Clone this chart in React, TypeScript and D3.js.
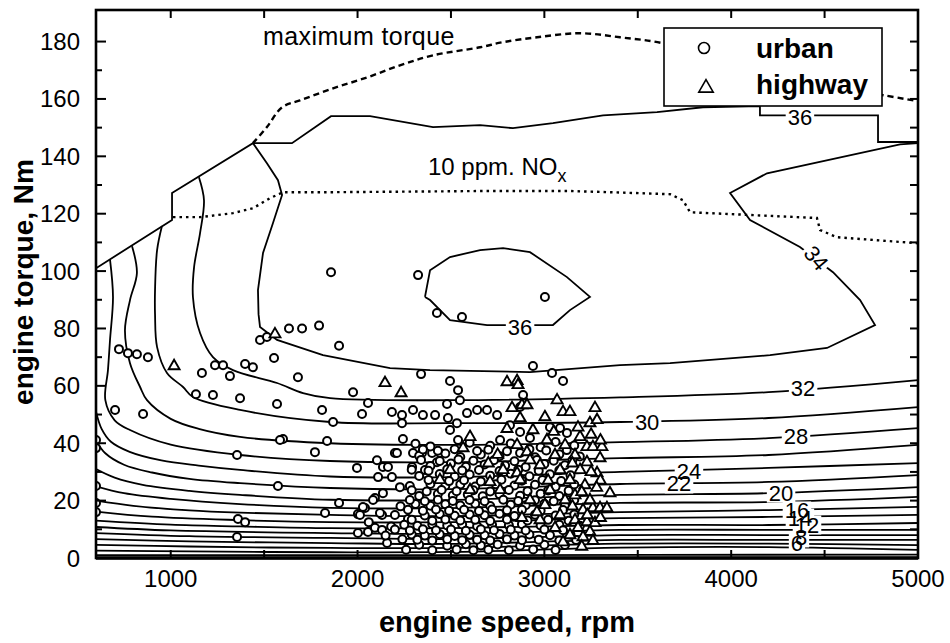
import { useEffect, useRef } from "react"
import * as d3 from "d3"

type Pt = [number, number]

// axes (engine speed in rpm, torque in Nm)
const X_DOMAIN: Pt = [600, 5000]
const Y_DOMAIN: Pt = [0, 191]
const xTicks = [1000, 2000, 3000, 4000, 5000]
const xMinorTicks = [1000, 1500, 2000, 2500, 3000, 3500, 4000, 4500]
const yTicks = [0, 20, 40, 60, 80, 100, 120, 140, 160, 180]
const yMinorTicks = [10, 30, 50, 70, 90, 110, 130, 150, 170]
const yRightTicks = [10, 20, 30, 40, 50, 60, 70, 80, 90, 100, 110, 120, 130, 140, 150, 160, 170, 180]

// outer edge of the mapped region (carries the "36" label)
const mapEdge: Pt[] = [
  [600, 101], [1007, 117.8], [1007, 127.2], [1440, 144.6], [1649, 144.6], [1858, 154], [2067, 154],
  [2404, 150.2], [2656, 150.9], [2832, 149.8], [3046, 151.6], [3314, 154.3], [3603, 155.4], [3849, 157.1],
  [4154, 157.5], [4154, 154.3], [4583, 154.3], [4786, 154.3], [4786, 145], [5000, 145],
]

const maxTorque: Pt[] = [
  [1440, 144.6], [1515, 150.2], [1596, 157.1], [1692, 159.5], [1869, 163.7], [2051, 167.5], [2227, 171.7],
  [2404, 175.2], [2656, 178], [2779, 179.8], [2961, 181.5], [3191, 182.9], [3405, 181.5], [3635, 179.4],
  [3900, 174.5], [4101, 169.5], [4500, 164.5], [4813, 161.3], [5000, 159.2],
]

const noxLimit: Pt[] = [
  [1012, 118.8], [1157, 118.8], [1333, 120.2], [1440, 121.9], [1531, 125.4], [1601, 127.5], [1869, 127.5],
  [2656, 127.9], [3137, 127.9], [3351, 127.5], [3673, 126.8], [3742, 124.7], [3780, 120.5], [4459, 118.5],
  [4476, 114.3], [4566, 111.8], [5000, 109.7],
]

// efficiency contours, %
const c36: Pt[] = [
  [2361, 91], [2388, 100.3], [2495, 104.9], [2656, 107.3], [2779, 108], [2923, 106.6], [3121, 97.9],
  [3244, 91], [3137, 86.4], [3046, 81.2], [2693, 81.2], [2495, 82.9], [2388, 89.9], [2361, 91],
]
const c34: Pt[] = [
  [1440, 144.6], [1515, 137.6], [1574, 131.7], [1596, 126.5], [1547, 116.7], [1494, 106.3], [1467, 93.4],
  [1470, 85], [1478, 80.5], [1569, 76], [1815, 70.7], [2174, 66.2], [2388, 65.5], [2923, 64.8], [3405, 67.2],
  [3673, 67.9], [4208, 70.7], [4513, 73.2], [4770, 81.2], [4690, 89.9], [4545, 99.6], [4368, 108.4],
  [4101, 117.8], [3994, 127.2], [4192, 134.1], [4904, 144.2], [5000, 144.6],
]
const c32: Pt[] = [
  [1151, 132.7], [1178, 124.7], [1157, 113.2], [1125, 101.4], [1119, 90.9], [1157, 78.4], [1226, 70],
  [1333, 65.5], [1569, 61], [1708, 57.5], [1853, 55.7], [2500, 55], [3405, 56], [4200, 57.8], [5000, 62],
]
const c30: Pt[] = [
  [953, 115.7], [927, 107.3], [916, 93.4], [916, 85], [927, 73.5], [980, 64.5], [1066, 59.6], [1119, 56.1],
  [1371, 51.6], [1853, 47.4], [2500, 47], [3405, 47.4], [4200, 48.8], [5000, 52.6],
]
const c28: Pt[] = [
  [793, 108.7], [819, 99.3], [782, 89.9], [755, 79.4], [782, 67.9], [836, 59.6], [873, 55], [1000, 48.5],
  [1150, 45], [1371, 42.2], [1853, 40], [2500, 39.4], [3405, 40.4], [4200, 41.8], [5000, 45.3],
]
const c26: Pt[] = [
  [675, 104], [691, 91], [675, 76], [664, 65.5], [650, 55], [700, 48], [782, 44.6], [1000, 39.5],
  [1371, 35.9], [1853, 33.8], [2500, 33.4], [3405, 34.8], [4200, 35.9], [5000, 39.4],
]
const c24: Pt[] = [
  [600, 51], [630, 45], [680, 40.5], [780, 37], [950, 34], [1150, 32.2], [1371, 30.7], [1853, 28.4],
  [2500, 28.2], [3405, 30], [4200, 31.4], [5000, 33.1],
]
const c22: Pt[] = [
  [600, 41], [650, 36.5], [750, 32.5], [900, 29.8], [1100, 27.6], [1371, 26.1], [1853, 24.4], [2500, 24],
  [3405, 25.8], [4200, 26.5], [5000, 28.9],
]
const c20: Pt[] = [
  [600, 31], [700, 28], [850, 25.5], [1100, 23.4], [1371, 22], [1853, 20.3], [2500, 20.2], [3405, 22],
  [4200, 22.6], [5000, 24.7],
]
const c18: Pt[] = [
  [600, 25], [750, 22.6], [1000, 20.6], [1371, 18.8], [1853, 17.5], [2500, 17.4], [3405, 19.2], [4200, 19.5],
  [5000, 21.3],
]
const c16: Pt[] = [
  [600, 20], [800, 18.2], [1100, 16.6], [1371, 15.8], [1853, 15], [2500, 14.6], [3405, 16], [4200, 16.7],
  [5000, 17.8],
]
const c14: Pt[] = [[600, 16.2], [900, 14.4], [1371, 13.2], [1853, 12.5], [2500, 12.5], [3405, 13.9], [4200, 14.3], [5000, 15]]
const c12: Pt[] = [[600, 13], [1000, 11.6], [1371, 11], [1853, 10.4], [2500, 10.4], [3405, 11.5], [4200, 11.5], [5000, 12.2]]
const c10: Pt[] = [[600, 10.8], [1000, 9.6], [1853, 8.7], [2500, 8.4], [3405, 9.8], [4200, 9.8], [5000, 9.8]]
const c8: Pt[] = [[600, 8.7], [1100, 7.6], [1853, 7], [2500, 6.6], [3405, 8], [4200, 8], [5000, 8]]
const c6: Pt[] = [[600, 6.6], [1100, 5.8], [1853, 5.2], [2500, 4.9], [3405, 6.3], [4200, 6.3], [5000, 6.3]]
const c4: Pt[] = [[600, 4.6], [1100, 4], [1853, 3.5], [2500, 3.5], [3405, 5], [4200, 5], [5000, 4.5]]
const c2: Pt[] = [[600, 2.6], [1100, 2.3], [1853, 2], [2500, 2.1], [3405, 3.6], [4200, 3.8], [5000, 2.8]]
const c0: Pt[] = [[600, 1], [2500, 1], [5000, 1.2]]

const contourLabels: { text: string; at: Pt; angle: number }[] = [
  { text: "36", at: [4368, 153.6], angle: 0 },
  { text: "34", at: [4454, 104.5], angle: 50 },
  { text: "36", at: [2870, 80.5], angle: 0 },
  { text: "32", at: [4385, 59.2], angle: 0 },
  { text: "30", at: [3550, 47.4], angle: 0 },
  { text: "28", at: [4347, 42.5], angle: 0 },
  { text: "24", at: [3774, 30], angle: 0 },
  { text: "22", at: [3721, 25.8], angle: 0 },
  { text: "20", at: [4267, 22.6], angle: 0 },
  { text: "16", at: [4352, 16.4], angle: 0 },
  { text: "14", at: [4368, 13.9], angle: 0 },
  { text: "12", at: [4406, 11.5], angle: 0 },
  { text: "8", at: [4374, 7], angle: 0 },
  { text: "6", at: [4352, 5.2], angle: 0 },
]

// operating points
const urban: Pt[] = [
  [1858, 99.6], [2324, 98.6], [2425, 85.4], [2559, 84], [3003, 91],
  [1633, 80], [1703, 80], [1794, 81], [1901, 74], [1553, 69.7], [1478, 76], [1515, 77], [1681, 63], [1976, 57.8],
  [723, 72.8], [771, 71.4], [819, 71], [878, 70], [1167, 64.5], [1237, 67.2], [1280, 67.2], [1317, 63.4],
  [1398, 67.6], [1440, 66.5], [1135, 57.1], [1226, 56.8], [1371, 55.7], [702, 51.6], [852, 50.2],
  [600, 41.1], [600, 38.3], [1355, 35.9], [600, 25.1], [600, 19.2], [600, 16],
  [1360, 13.6], [1398, 12.5], [1355, 7.3], [1569, 53.7], [1810, 51.6], [1869, 47.4], [2056, 54], [2024, 50.2],
  [2184, 50.9], [2238, 49.8], [2238, 47], [1601, 41.5], [1585, 41.1], [1837, 40.8], [1772, 36.9], [2243, 41.5],
  [2200, 36.6], [1997, 31.4], [2104, 34.1], [2136, 31.7], [2110, 28.2], [2184, 28.2],
  [1574, 25.1], [2227, 24.7], [2093, 20.9], [1901, 19.2], [1826, 15.7], [2002, 15.3], [2040, 17.4], [2131, 15],
  [2200, 15], [2002, 8.7], [2056, 9.1], [2093, 10.5], [2131, 9.8], [2158, 5.2],
  [2340, 64.1], [2939, 66.9], [3041, 64.5], [3100, 61.7], [2495, 61.7], [2538, 58.5], [2297, 51.6], [2350, 49.8],
  [2415, 49.8], [2479, 53.7], [2484, 48.8], [2548, 55], [2586, 50.5], [2640, 51.6], [2693, 51.6], [2747, 49.8],
  [2532, 47], [2495, 44.6], [2816, 46.3], [2886, 56.8], [2870, 52.6], [2870, 43.9], [2923, 41.8], [3030, 45.6],
  [3084, 45.3], [3121, 43.6], [2211, 36.6], [2297, 36.6], [2345, 36.6], [2399, 36.6], [2441, 36.6], [2163, 31.7],
  [2292, 31.7], [2425, 33.4], [2538, 41.1], [2763, 41.1], [2361, 30.7], [2136, 22.6], [2029, 17.8], [2013, 15],
  [2120, 15.7], [2083, 20.2], [2060, 12.5], [2180, 11], [2230, 18], [2150, 7.8], [2240, 6.5], [2270, 13.6],
  [2310, 39.8], [2390, 38.9], [2600, 40.2], [2710, 39.1], [2820, 39.9], [2980, 38.6], [3060, 40.4], [3160, 39.2],
  [2330, 35.6], [2470, 36.4], [2550, 35.2], [2660, 36.1], [2760, 35.5], [2870, 36.6], [2950, 35.1], [3080, 36.2], [3190, 35.4],
  [2390, 32.1], [2500, 32.9], [2580, 31.8], [2680, 32.6], [2790, 32.2], [2900, 31.7], [3000, 32.8], [3110, 32.3],
  [2330, 28.6], [2440, 29.3], [2520, 28.4], [2600, 29.1], [2710, 28.7], [2820, 29.4], [2920, 28.5], [3030, 29.2], [3140, 28.8],
  [2280, 25.1], [2390, 25.8], [2470, 25.2], [2550, 25.6], [2630, 24.9], [2740, 25.7], [2840, 25.3], [2950, 25.5], [3060, 24.8], [3160, 25.6],
  [2330, 21.6], [2430, 22.3], [2510, 21.8], [2590, 22.1], [2670, 21.5], [2760, 22.2], [2870, 21.7], [2980, 22.4], [3080, 21.6],
  [2310, 18.8], [2390, 18.2], [2470, 18.7], [2550, 18.3], [2630, 18.9], [2710, 18.1], [2820, 18.6], [2900, 18.4], [3000, 18.9], [3110, 18.2],
  [2360, 14.8], [2440, 15.3], [2520, 14.7], [2600, 15.2], [2680, 14.9], [2760, 15.4], [2840, 14.6], [2950, 15.1], [3060, 14.8], [3160, 15.2],
  [2250, 11.6], [2320, 11.2], [2400, 11.8], [2480, 11.3], [2560, 11.7], [2640, 11.1], [2720, 11.6], [2810, 11.4], [2880, 11.8], [2980, 11.3], [3080, 11.6], [3190, 11.2],
  [2290, 8.2], [2360, 7.8], [2440, 8.3], [2520, 7.7], [2600, 8.1], [2680, 7.9], [2760, 8.4], [2840, 7.8], [2920, 8.2], [3030, 7.9], [3140, 8.1],
  [2330, 4.6], [2480, 4.3], [2580, 4.8], [2660, 4.4], [2750, 4.7], [2870, 4.3], [3000, 4.6], [3110, 4.5],
  [2350, 37.8], [2430, 37.4], [2520, 37.9], [2640, 37.3], [2700, 37.7], [2800, 37.2], [2920, 37.9], [3010, 37.5], [3120, 37.6],
  [2340, 34.2], [2440, 33.8], [2540, 34.3], [2620, 33.9], [2730, 34.1], [2840, 33.7], [2960, 34.2], [3050, 33.9], [3150, 34.1],
  [2290, 30.8], [2380, 30.4], [2480, 30.9], [2560, 30.5], [2650, 30.7], [2760, 30.3], [2860, 30.8], [2970, 30.4], [3080, 30.6],
  [2380, 27.2], [2490, 26.8], [2570, 27.1], [2660, 26.7], [2770, 27.3], [2880, 26.9], [2990, 27.2], [3090, 26.8],
  [2290, 23.6], [2370, 23.2], [2450, 23.7], [2530, 23.3], [2620, 23.6], [2710, 23.2], [2810, 23.7], [2910, 23.3], [3020, 23.5], [3130, 23.4],
  [2280, 20.2], [2360, 19.8], [2430, 20.3], [2510, 19.9], [2600, 20.2], [2680, 19.8], [2780, 20.3], [2860, 19.9], [2950, 20.1], [3050, 19.8], [3160, 20.2],
  [2270, 16.8], [2350, 16.5], [2420, 16.9], [2490, 16.5], [2570, 16.8], [2650, 16.4], [2720, 16.9], [2800, 16.6], [2880, 16.8], [2980, 16.5], [3100, 16.7],
  [2290, 13.3], [2400, 13], [2470, 13.4], [2550, 13.1], [2630, 13.3], [2710, 12.9], [2800, 13.4], [2910, 13.1], [3020, 13.3], [3130, 13],
  [2200, 9.9], [2280, 9.6], [2350, 10], [2420, 9.7], [2500, 9.9], [2580, 9.5], [2660, 10], [2730, 9.7], [2820, 9.9], [2900, 9.6], [3000, 9.9], [3100, 9.7],
  [2320, 6.4], [2400, 6.1], [2480, 6.5], [2560, 6.2], [2640, 6.4], [2710, 6.1], [2800, 6.5], [2880, 6.2], [2970, 6.4], [3080, 6.1], [3170, 6.3],
  [2260, 2.9], [2400, 2.7], [2530, 3], [2620, 2.7], [2700, 2.9], [2810, 2.7], [2940, 3], [3060, 2.8],
]

const highway: Pt[] = [
  [1018, 66.9], [1558, 78], [2147, 61], [2233, 57.5], [2800, 61.3], [2854, 61.7], [2859, 60.3], [3068, 55],
  [2880, 53.3], [2827, 52.3], [2907, 53.3], [2870, 48.8], [3003, 49.1], [3100, 50.9], [3137, 50.9], [3271, 52.3],
  [3244, 47], [3282, 48.1], [2602, 42.2], [2565, 38.3], [2854, 39.4], [2939, 44.6], [3191, 42.2], [3228, 38.7],
  [3260, 38.7], [3308, 38.7], [3298, 34.8], [3228, 33.4], [2907, 36.9], [2779, 30.7], [2854, 29.6], [3282, 29.6],
  [3351, 22.6], [3207, 16.7], [3260, 17.4], [3298, 17.4], [3335, 17.4], [3228, 12.5], [3271, 12.2], [3244, 9.1],
  [3207, 7.3], [2709, 26.5], [3084, 30.7], [3137, 27.2], [3030, 23.7], [3111, 20.2], [3164, 21.9], [3003, 18.5],
  [3084, 15], [3164, 13.2], [3057, 10.5], [3137, 8], [2977, 13.2], [2923, 20.2], [2870, 27.2], [2977, 32.4],
  [3057, 35.9], [3111, 39.4], [3164, 35.9], [3217, 25.4], [3244, 20.2], [3191, 30.7], [2495, 30.7], [2602, 23.7],
  [2441, 27.2], [2763, 23.7], [2923, 34.1], [3014, 41.1],
  [3180, 45.5], [3250, 43], [3300, 41], [3150, 33], [3250, 30], [3300, 27], [3200, 23], [3280, 24.5], [3150, 18],
  [3230, 15], [3300, 14], [3180, 10.5], [3260, 6], [3020, 27], [2960, 16], [3050, 44], [2800, 45], [2750, 36],
  [2700, 33], [2880, 14], [3100, 5.5], [3200, 4],
]

const FONT = '"Liberation Sans", Arial, Helvetica, sans-serif'

export default function App() {
  const svgRef = useRef<SVGSVGElement>(null)

  useEffect(() => {
    const svgEl = svgRef.current
    if (!svgEl) return
    const svg = d3.select(svgEl)
    svg.selectAll("*").remove()

    const m = { left: 96, top: 10, right: 918, bottom: 558 }
    const x = d3.scaleLinear().domain(X_DOMAIN).range([m.left, m.right])
    const y = d3.scaleLinear().domain(Y_DOMAIN).range([m.bottom, m.top])

    svg.append("defs").append("clipPath").attr("id", "plot-clip")
      .append("rect").attr("x", m.left).attr("y", m.top)
      .attr("width", m.right - m.left).attr("height", m.bottom - m.top)

    const smooth = d3.line<Pt>().x(d => x(d[0])).y(d => y(d[1])).curve(d3.curveCatmullRom.alpha(0.5))
    const straight = d3.line<Pt>().x(d => x(d[0])).y(d => y(d[1]))

    const plot = svg.append("g").attr("clip-path", "url(#plot-clip)")

    const smoothLines = [c32, c30, c28, c26, c24, c22, c20, c18, c16, c14, c12, c10, c8, c6, c4, c2, c0]
    plot.append("g").selectAll("path").data(smoothLines).join("path")
      .attr("d", d => smooth(d) || "")
      .attr("fill", "none").attr("stroke", "#000").attr("stroke-width", 1.8)

    plot.append("g").selectAll("path").data([mapEdge, c34, c36]).join("path")
      .attr("d", d => straight(d) || "")
      .attr("fill", "none").attr("stroke", "#000").attr("stroke-width", 1.8)

    plot.append("path").attr("d", smooth(maxTorque) || "")
      .attr("fill", "none").attr("stroke", "#000").attr("stroke-width", 2.4)
      .attr("stroke-dasharray", "6,4")
    plot.append("path").attr("d", straight(noxLimit) || "")
      .attr("fill", "none").attr("stroke", "#000").attr("stroke-width", 2.4)
      .attr("stroke-dasharray", "2.5,4")

    // contour labels with white gaps
    const bgG = plot.append("g")
    const txtG = plot.append("g")
    contourLabels.forEach(l => {
      const cx = x(l.at[0]), cy = y(l.at[1])
      const t = txtG.append("text")
        .attr("x", 0).attr("y", 0)
        .attr("text-anchor", "middle").attr("dominant-baseline", "central")
        .attr("transform", `translate(${cx},${cy}) rotate(${l.angle})`)
        .attr("font-family", FONT).attr("font-size", 22).text(l.text)
      const bb = (t.node() as SVGTextElement).getBBox()
      bgG.append("rect")
        .attr("x", bb.x - 2).attr("y", bb.y + 3).attr("width", bb.width + 4).attr("height", bb.height - 6)
        .attr("transform", `translate(${cx},${cy}) rotate(${l.angle})`)
        .attr("fill", "#fff")
    })

    // scatter
    plot.append("g").selectAll("circle").data(urban).join("circle")
      .attr("cx", d => x(d[0])).attr("cy", d => y(d[1])).attr("r", 4)
      .attr("fill", "#fff").attr("stroke", "#000").attr("stroke-width", 2)
    const tri = d3.symbol().type(d3.symbolTriangle).size(52)
    plot.append("g").selectAll("path").data(highway).join("path")
      .attr("d", tri() || "")
      .attr("transform", d => `translate(${x(d[0])},${y(d[1])})`)
      .attr("fill", "#fff").attr("stroke", "#000").attr("stroke-width", 1.9)

    // annotations
    svg.append("text").attr("x", 263).attr("y", 45)
      .attr("font-family", FONT).attr("font-size", 25).attr("letter-spacing", 0.4).text("maximum torque")
    const nox = svg.append("text").attr("x", 428).attr("y", 175)
      .attr("font-family", FONT).attr("font-size", 24)
    nox.append("tspan").text("10 ppm. NO")
    nox.append("tspan").attr("dy", 7).attr("font-size", 18).text("x")

    // frame and ticks
    svg.append("rect").attr("x", m.left).attr("y", m.top)
      .attr("width", m.right - m.left).attr("height", m.bottom - m.top)
      .attr("fill", "none").attr("stroke", "#000").attr("stroke-width", 2.6)
    svg.append("line").attr("x1", m.left).attr("x2", m.right).attr("y1", m.bottom).attr("y2", m.bottom)
      .attr("stroke", "#000").attr("stroke-width", 3.5)

    const ticks = svg.append("g").attr("stroke", "#000").attr("stroke-width", 2)
    yTicks.forEach(v => ticks.append("line").attr("x1", m.left).attr("x2", m.left + 10).attr("y1", y(v)).attr("y2", y(v)))
    yMinorTicks.forEach(v => ticks.append("line").attr("x1", m.left).attr("x2", m.left + 6).attr("y1", y(v)).attr("y2", y(v)))
    yRightTicks.forEach(v => ticks.append("line").attr("x1", m.right).attr("x2", m.right - 8).attr("y1", y(v)).attr("y2", y(v)))
    xMinorTicks.forEach(v => {
      ticks.append("line").attr("x1", x(v)).attr("x2", x(v)).attr("y1", m.top).attr("y2", m.top + 8)
      ticks.append("line").attr("x1", x(v)).attr("x2", x(v)).attr("y1", m.bottom).attr("y2", m.bottom - 8)
    })

    svg.append("g").selectAll("text").data(yTicks).join("text")
      .attr("x", 80).attr("y", d => y(d)).attr("text-anchor", "end").attr("dominant-baseline", "central")
      .attr("font-family", FONT).attr("font-size", 24).text(d => String(d))
    svg.append("g").selectAll("text").data(xTicks).join("text")
      .attr("x", d => x(d)).attr("y", 587).attr("text-anchor", "middle")
      .attr("font-family", FONT).attr("font-size", 24).text(d => String(d))

    svg.append("text").attr("x", 507).attr("y", 632).attr("text-anchor", "middle")
      .attr("font-family", FONT).attr("font-weight", "bold").attr("font-size", 29).text("engine speed, rpm")
    svg.append("text").attr("transform", "translate(33,282) rotate(-90)").attr("text-anchor", "middle")
      .attr("font-family", FONT).attr("font-weight", "bold").attr("font-size", 28).text("engine torque, Nm")

    // legend
    const lg = svg.append("g")
    lg.append("rect").attr("x", 664).attr("y", 28).attr("width", 218).attr("height", 78)
      .attr("fill", "#fff").attr("stroke", "#000").attr("stroke-width", 1.6)
    lg.append("circle").attr("cx", 704).attr("cy", 48).attr("r", 5.5)
      .attr("fill", "#fff").attr("stroke", "#000").attr("stroke-width", 1.6)
    lg.append("path").attr("d", d3.symbol().type(d3.symbolTriangle).size(90)() || "")
      .attr("transform", "translate(706,88)")
      .attr("fill", "#fff").attr("stroke", "#000").attr("stroke-width", 1.6)
    lg.append("text").attr("x", 756).attr("y", 58).attr("font-family", FONT)
      .attr("font-weight", "bold").attr("font-size", 28).text("urban")
    lg.append("text").attr("x", 756).attr("y", 94).attr("font-family", FONT)
      .attr("font-weight", "bold").attr("font-size", 28).text("highway")
  }, [])

  return (
    <svg ref={svgRef} width={950} height={643}
      style={{ position: "absolute", left: 0, top: 0, background: "#fff" }}
      role="img" aria-label="Engine efficiency map with operating points" />
  )
}
